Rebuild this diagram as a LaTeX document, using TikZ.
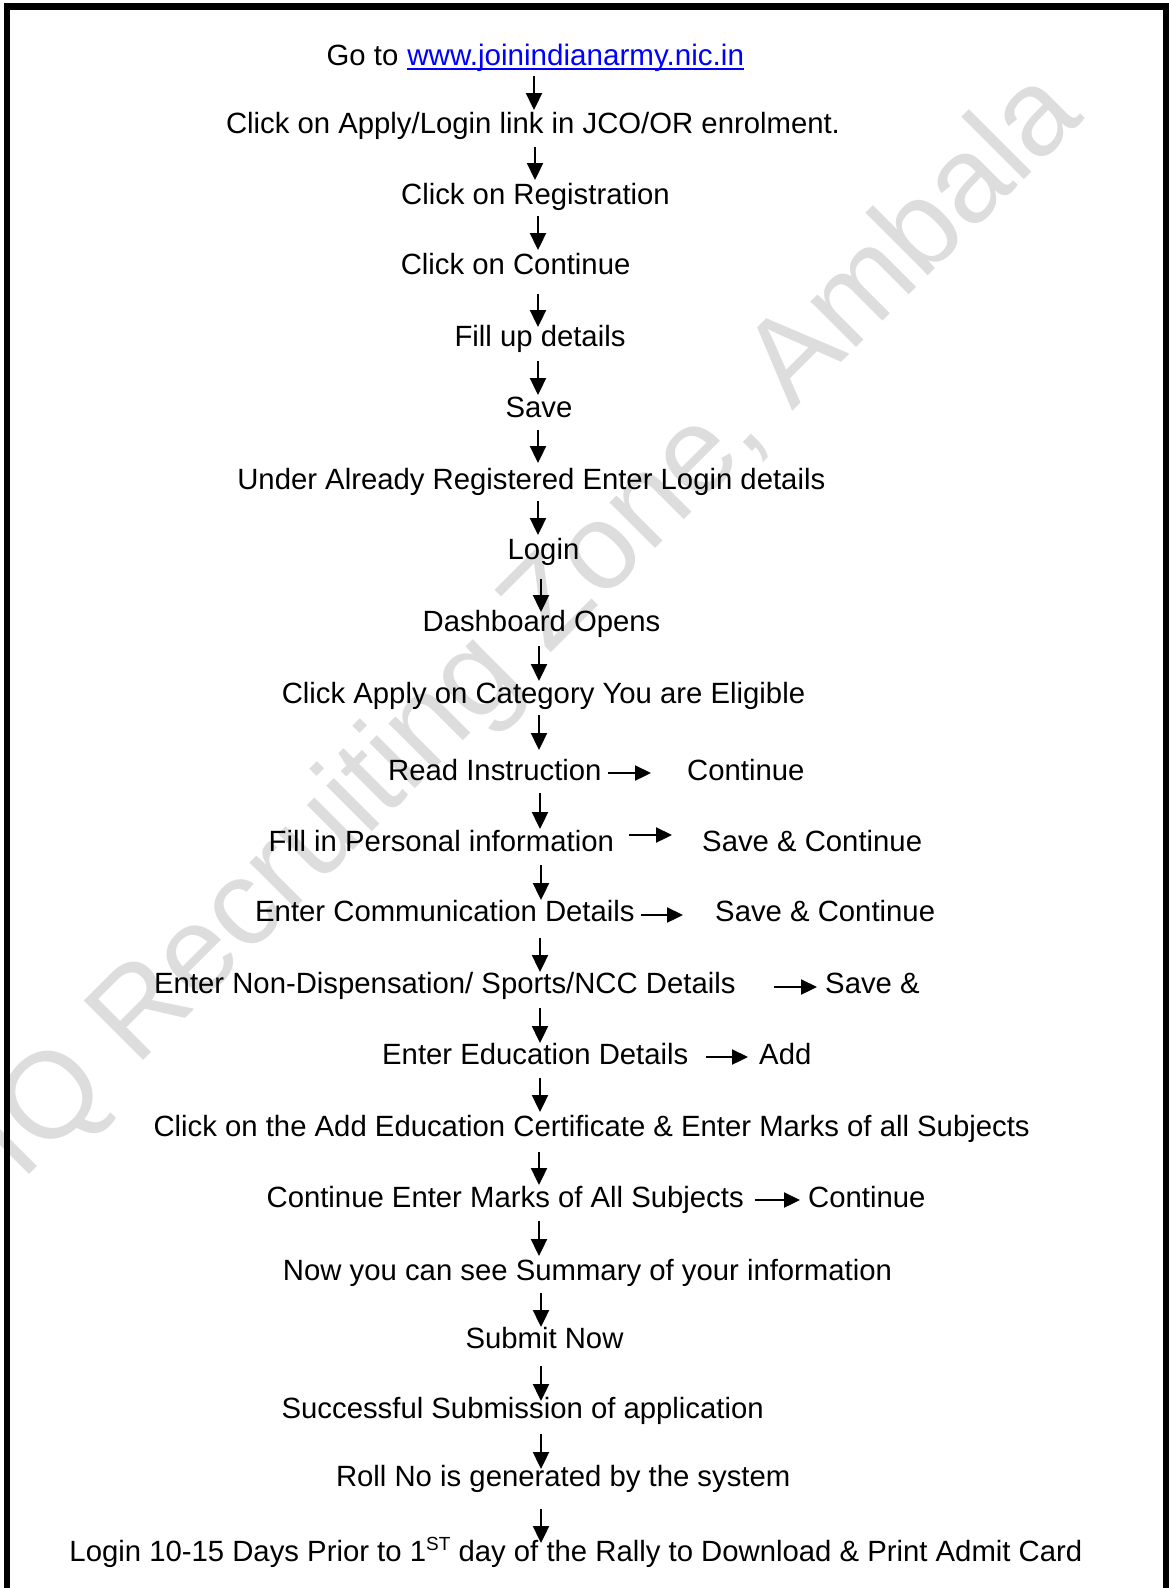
\documentclass[tikz,border=0pt]{standalone}
\usepackage{fontspec}
\setmainfont{Liberation Sans}
\usetikzlibrary{arrows.meta,calc}
\definecolor{wmgray}{RGB}{221,221,221}
\tikzset{%
  stage/.style  = {inner sep=0pt, anchor=base,%
                   font=\fontsize{29.3}{35}\selectfont},%
  stagel/.style = {stage, anchor=base west},%
  down/.style   = {-{Triangle[length=17pt,width=16pt]}, line width=2.3pt},%
  across/.style = {-{Triangle[length=16pt,width=15pt]}, line width=2.3pt},%
  wmark/.style  = {inner sep=0pt, anchor=base west, rotate=45, text=wmgray,%
                   font=\fontsize{122}{130}\selectfont}%
}

\begin{document}
\begin{tikzpicture}[x=1pt,y=-1pt]%
	\useasboundingbox (0,0) rectangle (1169,1588);
	% watermark
	\node[wmark] (wm) at (21,1183) {IQ Recruiting Zone, Ambala};%
	% frame
	\draw[line width=6.6pt] (7,1600) -- (7,6.7) -- (1166.5,6.7) -- (1166.5,1600);
	% steps
	\node[stagel] (goto) at (326.5,65) {Go to};%
	\node[stagel, text=blue] (url) at ($(goto.base east)+(8.6,0)$) {\fontsize{29.6}{35}\selectfont www.joinindianarmy.nic.in};%
	\draw[blue, line width=2pt] ([yshift=-3.6pt]url.base west) -- ([yshift=-3.6pt]url.base east);
	\node[stage] (apply) at (533,133) {Click on Apply/Login link in JCO/OR enrolment.};%
	\node[stage] (reg) at (535.5,204) {Click on Registration};%
	\node[stage] (cont) at (515.6,274) {Click on Continue};%
	\node[stage] (fill) at (540,346) {Fill up details};%
	\node[stage] (save) at (539,417) {Save};%
	\node[stage] (under) at (531.3,489) {Under Already Registered Enter Login details};%
	\node[stage] (login) at (543.5,559) {Login};%
	\node[stage] (dash) at (541.5,631) {Dashboard Opens};%
	\node[stage] (cat) at (543.5,703) {Click Apply on Category You are Eligible};%
	\node[stagel] (read) at (388,780) {Read Instruction};%
	\node[stagel] (readc) at (687,780) {Continue};%
	\node[stagel] (pers) at (268.5,851) {Fill in Personal information};%
	\node[stagel] (perss) at (702,851) {Save \& Continue};%
	\node[stagel] (comm) at (255,921) {Enter Communication Details};%
	\node[stagel] (comms) at (715,921) {Save \& Continue};%
	\node[stagel] (ncc) at (154,993) {Enter Non-Dispensation/ Sports/NCC Details};%
	\node[stagel] (nccs) at (825,993) {Save \&};%
	\node[stagel] (edu) at (382,1064) {Enter Education Details};%
	\node[stagel] (add) at (759,1064) {Add};%
	\node[stage] (cert) at (591.6,1136.5) {Click on the Add Education Certificate \& Enter Marks of all Subjects};%
	\node[stagel] (marks) at (266.4,1207) {Continue Enter Marks of All Subjects};%
	\node[stagel] (marksc) at (808,1207) {Continue};%
	\node[stage] (summ) at (587.5,1280) {Now you can see Summary of your information};%
	\node[stage] (submit) at (544.5,1348) {Submit Now};%
	\node[stage] (succ) at (522.7,1418) {Successful Submission of application};%
	\node[stage] (roll) at (563.2,1486) {Roll No is generated by the system};%
	\node[stage] (admit) at (575.9,1561) {Login 10-15 Days Prior to 1\raisebox{0.36em}{\fontsize{19}{19}\selectfont ST} day of the Rally to Download \& Print Admit Card};%
	% down arrows
	\foreach \x/\ya/\yb [count=\i] in {534/76/110, 535/147/180, 538/216/250, 538/294/327,%
		538/361/395, 538/430/463, 538/501/535, 541/579/612, 539/646/681, 539/715/750,%
		540/793/829, 541/865/900, 540/938/972, 540/1008/1043, 540/1078/1112,%
		539/1152/1185, 539/1221/1256, 541/1293/1327, 541/1366/1401, 541/1434/1469,%
		541/1509/1543}{%
		\coordinate (dtop\i) at (\x,\ya);
		\coordinate (dtip\i) at (\x,\yb);
		\draw[down] (dtop\i) -- (dtip\i);
	}
	% side arrows
	\foreach \xa/\xb/\y [count=\i] in {608/651/773, 629/672/835, 641/683/915,%
		774/817/987, 706/748/1057, 755/800/1200}{%
		\coordinate (stail\i) at (\xa,\y);
		\coordinate (shead\i) at (\xb,\y);
		\draw[across] (stail\i) -- (shead\i);
	}
\end{tikzpicture}
\end{document}
